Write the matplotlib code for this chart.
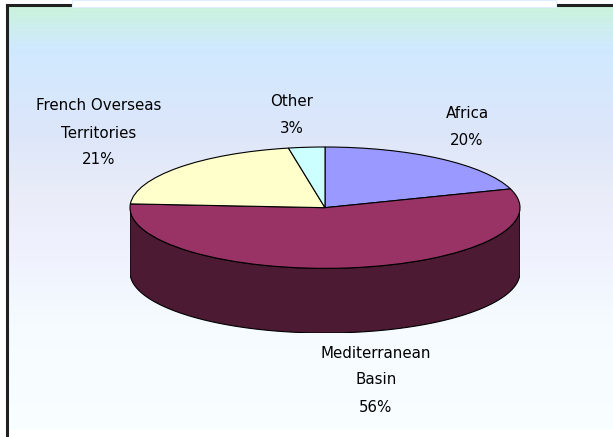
import numpy as np
import matplotlib
matplotlib.use("Agg")
import matplotlib.pyplot as plt
from matplotlib.colors import LinearSegmentedColormap, to_rgb

# ---- data ----
categories = ["Africa", "Mediterranean\nBasin", "French Overseas\nTerritories", "Other"]
values = [20, 56, 21, 3]
pct_labels = ["20%", "56%", "21%", "3%"]
colors = ["#9999FF", "#993366", "#FFFFCC", "#CCFFFF"]

W, H = 613, 437
fig = plt.figure(figsize=(W / 100, H / 100), dpi=100)

# ---- background (pixel coordinates) ----
bg = fig.add_axes([0, 0, 1, 1])
bg.set_xlim(0, W)
bg.set_ylim(H, 0)
bg.axis("off")
stops = [(0.0, "#caf3dc"), (0.10, "#d0e9ff"), (0.30, "#dde6fa"),
         (0.45, "#eaedf8"), (0.55, "#eef0fd"), (0.75, "#f5fbff"), (1.0, "#f9ffff")]
cmap = LinearSegmentedColormap.from_list("bgg", stops)
grad = np.linspace(0, 1, 400).reshape(-1, 1)
bg.imshow(grad, cmap=cmap, aspect="auto", extent=(7, W, 430, 5), zorder=0)
# frame lines and cut-off title box
bg.plot([7, 7], [5, H], color="#202020", lw=2.2, zorder=3)
bg.plot([7, 72], [5, 5], color="#202020", lw=2.2, zorder=3)
bg.plot([556, W], [5, 5], color="#202020", lw=2.2, zorder=3)
bg.add_patch(plt.Rectangle((72, 0), 484, 7, facecolor="white", edgecolor="#e0f0ff", lw=0.8, zorder=4))

# ---- pie (top ellipse semi-axis b = 1 data unit, depth d) ----
depth = 65 / 61.0
x0, x1 = 130, 520
ytop, ybot = 147, 333
ax = fig.add_axes([x0 / W, 1 - ybot / H, (x1 - x0) / W, (ybot - ytop) / H])
ax.patch.set_visible(False)
wedges, _ = ax.pie(values, colors=colors, startangle=90, counterclock=False,
                   wedgeprops=dict(edgecolor="black", linewidth=0.8), radius=1.0)
for w in wedges:
    w.set_zorder(3)
ax.set_aspect("auto")
ax.set_xlim(-1, 1)
ax.set_ylim(-1 - depth, 1)
ax.axis("off")

# side walls from cumulative angles
fr = np.array(values, dtype=float) / sum(values)
bounds = 90 - 360 * np.concatenate([[0], np.cumsum(fr)])  # degrees, clockwise
for i in range(len(values)):
    a_hi, a_lo = bounds[i], bounds[i + 1]
    # visible front half: angles in [-180, 0] (mod 360)
    for shift in (0, -360, 360):
        lo = max(a_lo + shift, -180)
        hi = min(a_hi + shift, 0)
        if hi > lo:
            t = np.radians(np.linspace(lo, hi, 100))
            xs = np.concatenate([np.cos(t), np.cos(t[::-1])])
            ys = np.concatenate([np.sin(t), np.sin(t[::-1]) - depth])
            c = np.array(to_rgb(colors[i])) * 0.5
            ax.fill(xs, ys, color=c, edgecolor="black", linewidth=0.8, zorder=2)

# ---- labels ----
font = dict(family="DejaVu Sans", fontsize=10.8, color="black", ha="center",
            va="center", linespacing=2.0)
label_pos = [(467, 127), (376, 380), (99, 133), (292, 115)]
for name, p, (lx, ly) in zip(categories, pct_labels, label_pos):
    bg.text(lx, ly, name + "\n" + p, zorder=5, **font)

fig.savefig("out.png", dpi=100)
